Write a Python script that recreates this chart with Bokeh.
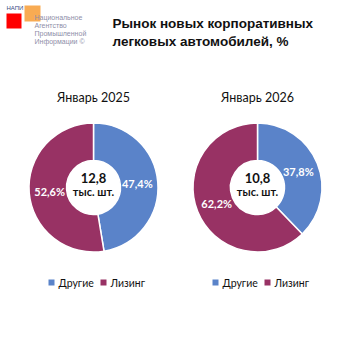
import numpy as np
from bokeh.plotting import figure
from bokeh.models import Range1d, ColumnDataSource
from bokeh.core.properties import value
from bokeh.embed import file_html
from bokeh.resources import INLINE

# ---- data ----
title_lines = ["Рынок новых корпоративных", "легковых автомобилей, %"]
periods = ["Январь 2025", "Январь 2026"]
categories = ["Другие", "Лизинг"]
shares = [[47.4, 52.6], [37.8, 62.2]]
totals = ["12,8", "10,8"]
total_unit = "тыс. шт."
colors = ["#5A83C9", "#983264"]
logo_lines = ["Национальное", "Агентство", "Промышленной", "Информации ©"]

W = H = 353
p = figure(width=W, height=H, output_backend="svg", toolbar_location=None,
           x_range=Range1d(0, W), y_range=Range1d(0, H), min_border=0)
p.axis.visible = False
p.grid.visible = False
p.outline_line_color = None
p.background_fill_color = "white"


def Y(py):
    return H - py


# logo
p.rect(x=[13.5], y=[Y(20.5)], width=15, height=15, fill_color="#FF0000", line_color=None)
p.rect(x=[32], y=[Y(13)], width=16, height=16, fill_color="#F7A240", fill_alpha=0.9, line_color=None)
p.text(x=[6], y=[Y(7)], text=["НАПИ"], text_font_size="6px", text_color="#3A4A80",
       text_baseline="middle", text_font=value("Liberation Sans"))
for i, ln in enumerate(logo_lines):
    p.text(x=[34], y=[Y(17 + 8 * i)], text=[ln], text_font_size="7px", text_color="#8E8EA8",
           text_baseline="middle", text_font=value("Liberation Sans"))

# main title
for i, ln in enumerate(title_lines):
    p.text(x=[112], y=[Y(23 + 18 * i)], text=[ln], text_font_size="13.5px", text_font_style="bold",
           text_color="#111111", text_baseline="middle", text_font=value("Liberation Sans"))

centers_x = [93, 257]
cy = 187
r_out, r_in, r_lab = 64.5, 27, 44

for k in range(2):
    cx = centers_x[k]
    vals = np.array(shares[k])
    frac = vals / vals.sum()
    cum = np.concatenate([[0], np.cumsum(frac)])
    start = np.pi / 2 - cum[:-1] * 2 * np.pi
    end = np.pi / 2 - cum[1:] * 2 * np.pi
    src = ColumnDataSource(dict(x=[cx] * 2, y=[Y(cy)] * 2, start=start, end=end, color=colors))
    p.annular_wedge(x="x", y="y", inner_radius=r_in, outer_radius=r_out,
                    start_angle="end", end_angle="start", fill_color="color",
                    line_color="white", line_width=1.5, source=src)
    mid = (start + end) / 2
    lx = cx + r_lab * np.cos(mid)
    ly = Y(cy) + r_lab * np.sin(mid)
    labels = [f"{v:.1f}%".replace(".", ",") for v in vals]
    p.text(x=lx, y=ly, text=labels, text_align="center", text_baseline="middle",
           text_font_size="11px", text_font_style="bold", text_color="white",
           text_font=value("Lato"))
    # center text
    p.text(x=[cx], y=[Y(177.5)], text=[totals[k]], text_align="center", text_baseline="middle",
           text_font_size="13px", text_font_style="bold", text_color="#111111", text_font=value("Lato"))
    p.text(x=[cx], y=[Y(190.5)], text=[total_unit], text_align="center", text_baseline="middle",
           text_font_size="11px", text_font_style="bold", text_color="#111111", text_font=value("Lato"))
    # subplot title
    p.text(x=[cx], y=[Y(97)], text=[periods[k]], text_align="center", text_baseline="middle",
           text_font_size="12.5px", text_color="#111111", text_font=value("Lato"))
    # legend
    lx0 = cx - 42
    offs = [0, 52]
    for j, cat in enumerate(categories):
        p.rect(x=[lx0 + offs[j]], y=[Y(282)], width=6, height=6, fill_color=colors[j], line_color=None)
        p.text(x=[lx0 + offs[j] + 7], y=[Y(282)], text=[cat], text_baseline="middle",
               text_font_size="10.5px", text_color="#111111", text_font=value("Lato"))

open("out.html", "w").write(file_html(p, INLINE))
